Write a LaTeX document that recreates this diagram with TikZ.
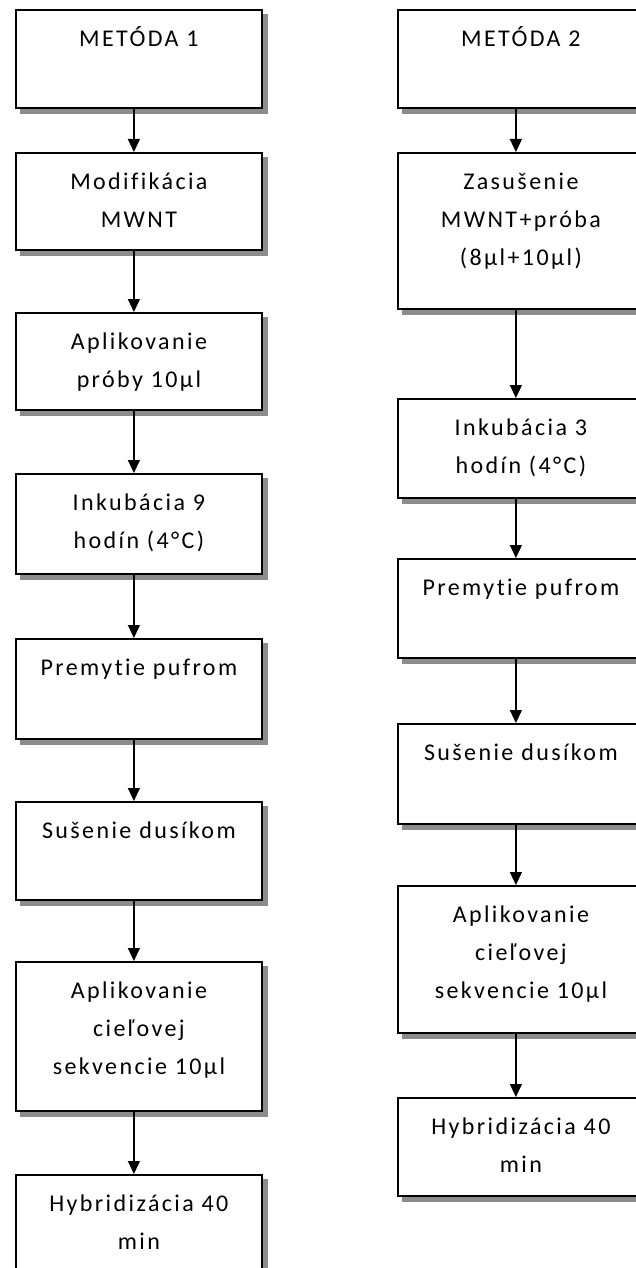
\documentclass[tikz,border=0pt]{standalone}
\usepackage{fontspec}
\setmainfont{Carlito}[LetterSpace=10,Ligatures={NoCommon}]
\usetikzlibrary{arrows.meta,backgrounds}
\newcommand\topstrut{\rule{0pt}{37pt}}
\newcommand\botstrut[1]{\rule[-#1pt]{0pt}{#1pt}}
\definecolor{shadowgrey}{RGB}{140,140,140}
\begin{document}
\begin{tikzpicture}[x=1pt,y=-1pt,
  flowbox/.style={draw=black, line width=1.8pt, fill=white, rectangle,
    anchor=north west, inner sep=0pt, minimum width=246pt, align=center,
    font=\fontsize{24pt}{38pt}\selectfont},
  boxshadow/.style={fill=shadowgrey},
  arr/.style={line width=1.2pt, -{Triangle[width=12pt,length=13pt]}}]
\useasboundingbox (0,0) rectangle (636,1268);
\clip (0,0) rectangle (636,1268);
% left column
\node[flowbox, minimum height=98pt]  (L1) at (15,9)    {\topstrut METÓDA 1\botstrut{61}};
\node[flowbox, minimum height=97pt]  (L2) at (15,152)  {\topstrut Modifikácia\\MWNT\botstrut{22}};
\node[flowbox, minimum height=97pt]  (L3) at (15,312)  {\topstrut Aplikovanie\\próby 10µl\botstrut{22}};
\node[flowbox, minimum height=100pt] (L4) at (15,473)  {\topstrut Inkubácia 9\\hodín (4°C)\botstrut{25}};
\node[flowbox, minimum height=100pt] (L5) at (15,638)  {\topstrut Premytie pufrom\botstrut{63}};
\node[flowbox, minimum height=98pt]  (L6) at (15,801)  {\topstrut Sušenie dusíkom\botstrut{61}};
\node[flowbox, minimum height=149pt] (L7) at (15,961)  {\topstrut Aplikovanie\\cieľovej\\sekvencie 10µl\botstrut{36}};
\node[flowbox, minimum height=98pt]  (L8) at (15,1174) {\topstrut Hybridizácia 40\\min\botstrut{23}};
% right column
\node[flowbox, minimum height=98pt]  (R1) at (397,9)    {\topstrut METÓDA 2\botstrut{61}};
\node[flowbox, minimum height=156pt] (R2) at (397,152)  {\topstrut Zasušenie\\MWNT+próba\\(8µl+10µl)\botstrut{43}};
\node[flowbox, minimum height=99pt]  (R3) at (397,398)  {\topstrut Inkubácia 3\\hodín (4°C)\botstrut{24}};
\node[flowbox, minimum height=99pt]  (R4) at (397,558)  {\topstrut Premytie pufrom\botstrut{62}};
\node[flowbox, minimum height=100pt] (R5) at (397,723)  {\topstrut Sušenie dusíkom\botstrut{63}};
\node[flowbox, minimum height=147pt] (R6) at (397,885)  {\topstrut Aplikovanie\\cieľovej\\sekvencie 10µl\botstrut{34}};
\node[flowbox, minimum height=98pt]  (R7) at (397,1097) {\topstrut Hybridizácia 40\\min\botstrut{23}};
% shadows and page background
\begin{scope}[on background layer]
  \fill[white] (0,0) rectangle (636,1268);
  \foreach \n in {L1,L2,L3,L4,L5,L6,L7,L8,R1,R2,R3,R4,R5,R6,R7}
    \fill[boxshadow] ([xshift=5pt,yshift=-5pt]\n.south west) rectangle ([xshift=5pt,yshift=-5pt]\n.north east);
\end{scope}
% connectors
\foreach \a/\b in {L1/L2,L2/L3,L3/L4,L4/L5,L5/L6,L6/L7,L7/L8,R1/R2,R2/R3,R3/R4,R4/R5,R5/R6,R6/R7}
  \draw[arr] ([xshift=-5pt]\a.south) -- ([xshift=-5pt]\b.north);
\end{tikzpicture}
\end{document}
